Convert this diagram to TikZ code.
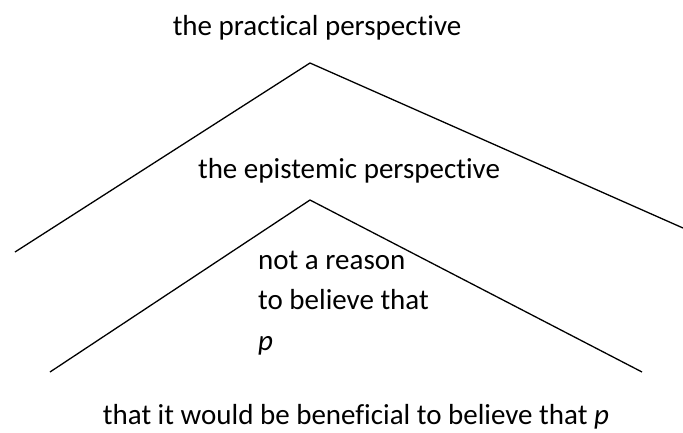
\documentclass[tikz,border=0pt]{standalone}
\usepackage{fontspec}
\setmainfont{Carlito}[Ligatures={NoCommon,NoDiscretionary,NoContextual},RawFeature={-liga;-clig;-dlig;-calt}]
\begin{document}
\begin{tikzpicture}[x=1pt,y=-1pt,
  lbl/.style={inner sep=0pt,font=\fontsize{29}{35}\selectfont},
  persp/.style={line width=1.3pt,black}]
\useasboundingbox (0,0) rectangle (683,432);
% outer wedge
\coordinate (oapex) at (310,63);
\coordinate (oleft) at (15,252);
\coordinate (oright) at (683,228);
% inner wedge
\coordinate (iapex) at (310,200);
\coordinate (ileft) at (50,372);
\coordinate (iright) at (642,372);
\draw[persp] (oleft) -- (oapex) -- (oright);
\draw[persp] (ileft) -- (iapex) -- (iright);
\node[lbl,anchor=base] (practical) at (317,35) {the practical perspective};
\node[lbl,anchor=base] (epistemic) at (349,178) {the epistemic perspective};
\node[lbl,anchor=base west] (r1) at (258,269) {not a reason};
\node[lbl,anchor=base west] (r2) at (258,309) {to believe that};
\node[lbl,anchor=base west] (r3) at (258,350) {\itshape p};
\node[lbl,anchor=base] (beneficial) at (356,424) {that it would be beneficial to believe that \textit{p}};
\end{tikzpicture}
\end{document}
